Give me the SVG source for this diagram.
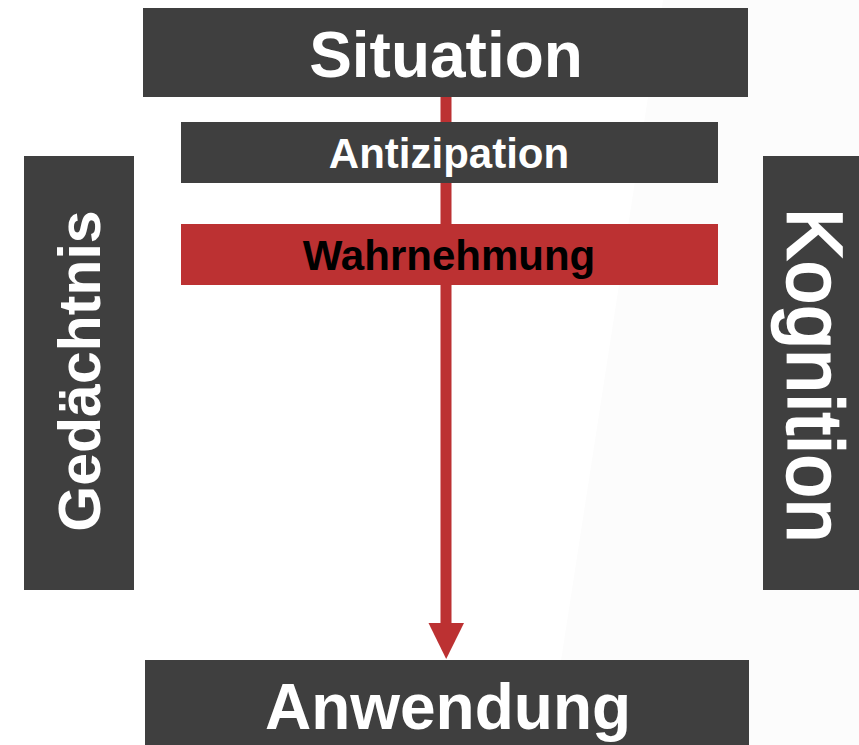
<svg xmlns="http://www.w3.org/2000/svg" width="859" height="745" viewBox="0 0 859 745">
  <style>
    .box { fill: #3f3f3f; }
    .hot { fill: #bc3132; }
    .lbl { font-family: "Liberation Sans", Arial, sans-serif; font-weight: bold; fill: #ffffff; text-anchor: middle; }
    .side { font-family: "Liberation Sans", Arial, sans-serif; fill: #ffffff; text-anchor: middle; }
  </style>
  <rect width="859" height="745" fill="#ffffff"/>
  <!-- faint sheen on the right half -->
  <polygon points="663,0 859,0 859,745 548,745" fill="#fcfcfc"/>

  <g id="connectors">
    <rect x="440.5" y="96" width="11" height="528" fill="#bc3132"/>
    <polygon points="428.5,623 464,623 446.2,659" fill="#bc3132"/>
  </g>

  <g id="situation">
    <rect class="box" x="143" y="8" width="605" height="89"/>
    <text class="lbl" x="446" y="77" font-size="64">Situation</text>
  </g>

  <g id="antizipation">
    <rect class="box" x="181" y="122" width="537" height="61"/>
    <text class="lbl" x="449" y="168" font-size="42">Antizipation</text>
  </g>

  <g id="wahrnehmung">
    <rect class="hot" x="181" y="224" width="537" height="61"/>
    <text class="lbl" x="449" y="270" font-size="42" style="fill:#000000">Wahrnehmung</text>
  </g>

  <g id="gedaechtnis">
    <rect class="box" x="24" y="156" width="110" height="434"/>
    <text class="lbl" transform="translate(100,371) rotate(-90)" x="0" y="0" font-size="59">Gedächtnis</text>
  </g>

  <g id="kognition">
    <rect class="box" x="763" y="156" width="96" height="434"/>
    <text class="side" transform="translate(788,375) rotate(90)" x="0" y="0" font-size="77" stroke="#ffffff" stroke-width="2.6" textLength="334" lengthAdjust="spacing">Kognition</text>
  </g>

  <g id="anwendung">
    <rect class="box" x="145" y="660" width="604" height="85"/>
    <text class="lbl" x="448" y="729" font-size="64">Anwendung</text>
  </g>
</svg>
